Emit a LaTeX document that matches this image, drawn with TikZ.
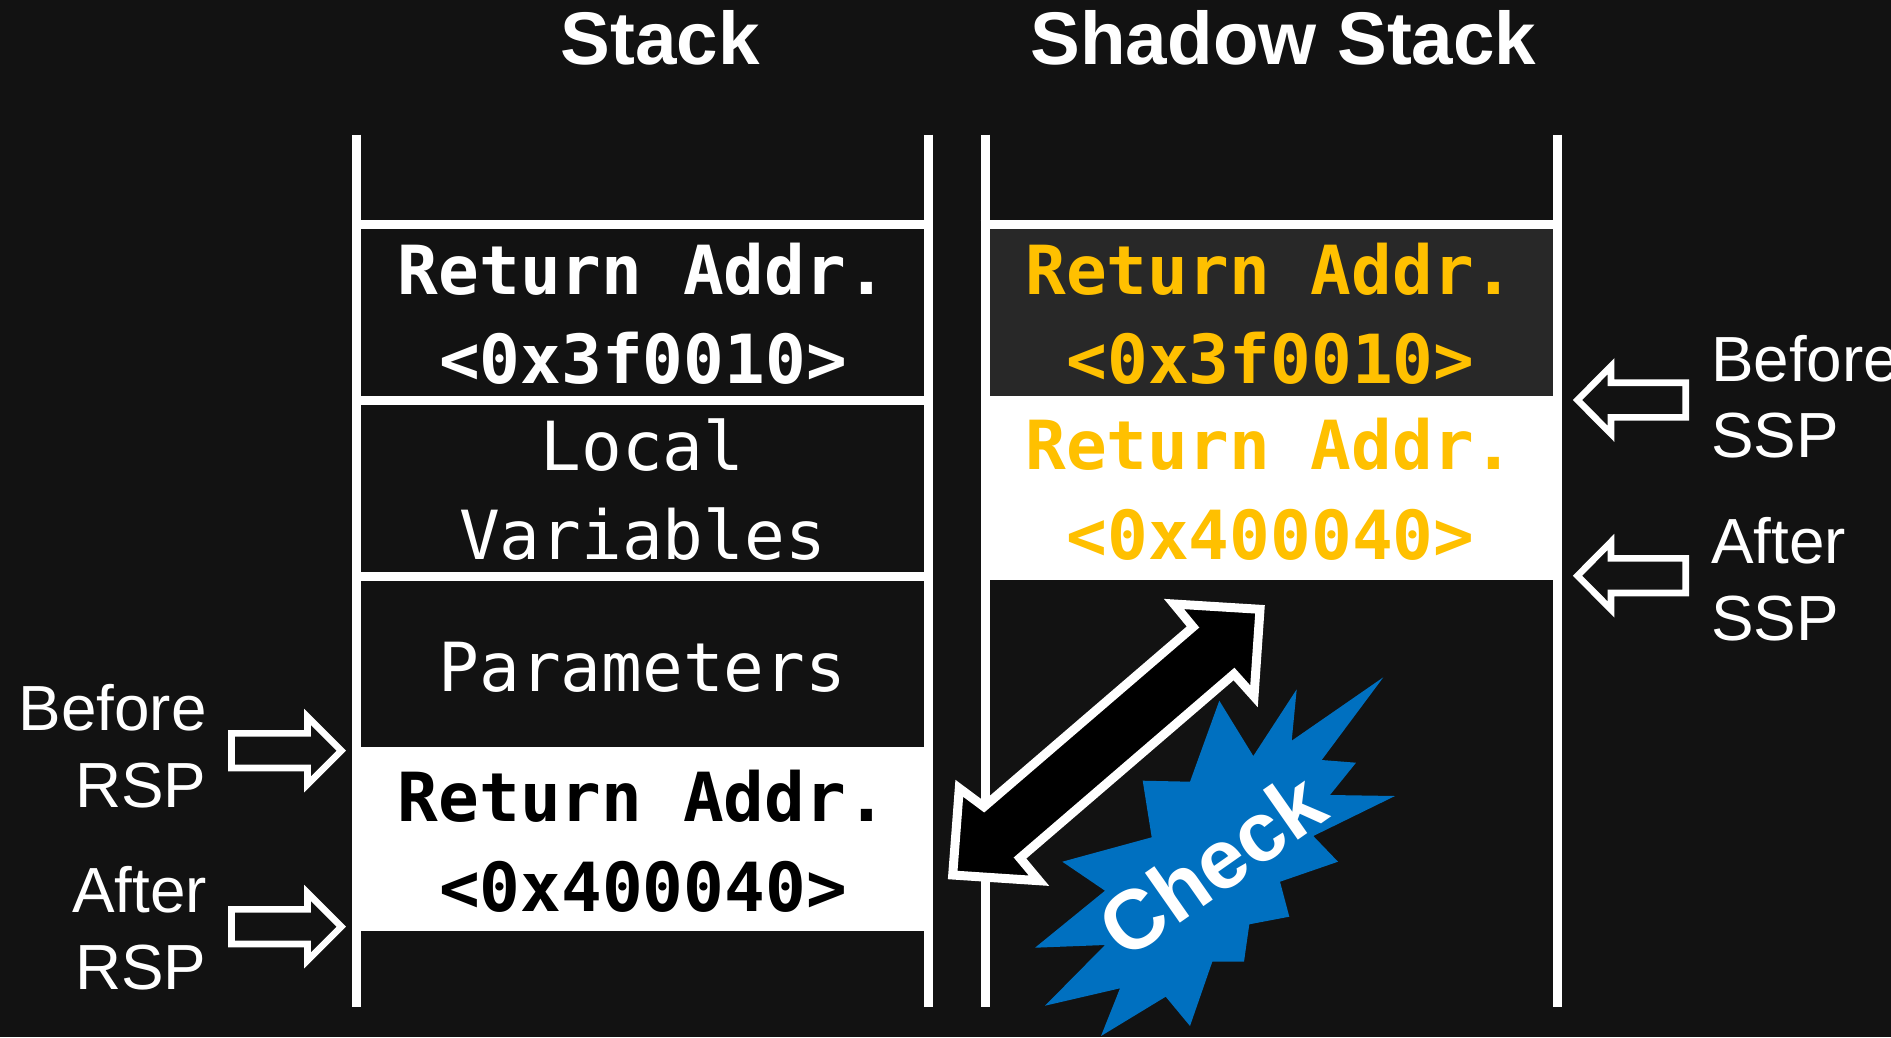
\documentclass[tikz,border=0pt]{standalone}
\usepackage{fontspec}
\setmainfont{Liberation Sans}
\setmonofont{DejaVu Sans Mono}
\definecolor{bgc}{HTML}{121212}
\definecolor{darkcell}{HTML}{282828}
\definecolor{amber}{HTML}{FFC000}
\definecolor{burst}{HTML}{0070C0}
\newcommand{\mono}{\fontsize{67.7}{67.7}\selectfont\ttfamily}
\newcommand{\sanslabel}{\fontsize{63.8}{63.8}\selectfont}
\tikzset{
  rail/.style={draw=white,line width=9pt},
  blockarrow/.style={draw=white,line width=6.6pt,fill=bgc,miter limit=10},
  txt/.style={inner sep=0pt,outer sep=0pt,anchor=base,text=white},
  monob/.style={txt,font=\mono\bfseries},
  monor/.style={txt,font=\mono},
  amb/.style={monob,text=amber},
  lab/.style={inner sep=0pt,outer sep=0pt,text=white,font=\sanslabel},
  title/.style={txt,font=\fontsize{74.6}{74.6}\selectfont\bfseries},
}
\begin{document}
\begin{tikzpicture}[x=1pt,y=-1pt]
\useasboundingbox (0,0) rectangle (1891,1037);
\fill[bgc] (0,0) rectangle (1891,1037);
% cells
\fill[white] (352,747) rectangle (933,931);
\fill[white] (980.5,396) rectangle (1561.5,580);
\fill[darkcell] (989,229) rectangle (1553,396);
% rails
\draw[rail] (356.5,134.5) -- (356.5,1007);
\draw[rail] (928.5,134.5) -- (928.5,1007);
\draw[rail] (985,134.5) -- (985,1007);
\draw[rail] (1557,134.5) -- (1557,1007);
\draw[rail] (352,224.5) -- (933,224.5);
\draw[rail] (352,400.5) -- (933,400.5);
\draw[rail] (352,576) -- (933,576);
\draw[rail] (980.5,224.5) -- (1561.5,224.5);
% titles
\node[title] (tstack) at (660,64.5) {Stack};
\node[title] (tshadow) at (1283.5,64.5) {Shadow Stack};
% stack text
\node[monob] (s1) at (642.5,294) {Return Addr.};
\node[monob] (s2) at (643,383) {<0x3f0010>};
\node[monor] (s3) at (642.5,470) {Local};
\node[monor] (s4) at (642.5,559) {Variables};
\node[monor] (s5) at (642.5,691) {Parameters};
\node[monob,text=black] (s6) at (642.5,821) {Return Addr.};
\node[monob,text=black] (s7) at (643,911) {<0x400040>};
% shadow text
\node[amb] (a1) at (1270,294) {Return Addr.};
\node[amb] (a2) at (1270.5,383) {<0x3f0010>};
\node[amb] (a3) at (1270,469) {Return Addr.};
\node[amb] (a4) at (1270.5,559) {<0x400040>};
% pointer labels
\node[lab,anchor=base east] (l1) at (206.5,730) {Before};
\node[lab,anchor=base east] (l2) at (206.5,807) {RSP};
\node[lab,anchor=base east] (l3) at (207,912) {After};
\node[lab,anchor=base east] (l4) at (206.5,989) {RSP};
\node[lab,anchor=base west] (r1) at (1711,381) {Before};
\node[lab,anchor=base west] (r2) at (1711,457) {SSP};
\node[lab,anchor=base west] (r3) at (1711,563) {After};
\node[lab,anchor=base west] (r4) at (1711,640) {SSP};
% block arrows
\foreach \yy in {750.7,926.7}{
  \draw[blockarrow] (231.5,\yy-17.3) -- (307.5,\yy-17.3) -- (307.5,\yy-33.8) -- (341.3,\yy) -- (307.5,\yy+33.8) -- (307.5,\yy+17.3) -- (231.5,\yy+17.3) -- cycle;
}
\foreach \yy in {400,575.7}{
  \draw[blockarrow] (1685.7,\yy-17.3) -- (1611,\yy-17.3) -- (1611,\yy-33.8) -- (1577.5,\yy) -- (1611,\yy+33.8) -- (1611,\yy+17.3) -- (1685.7,\yy+17.3) -- cycle;
}
% burst
\fill[burst] (1219.3,700.7) -- (1253.3,756) -- (1296.7,689.3) -- (1291.7,740.7) -- (1383.3,677.3) -- (1321.7,760) -- (1356,762.7) -- (1330,795) -- (1395,796) -- (1313.3,836) -- (1338,861.7) -- (1280,881.7) -- (1289.3,916.7) -- (1249.3,924.3) -- (1244,961.7) -- (1212.3,961.7) -- (1190,1026) -- (1165.7,996.7) -- (1101,1036) -- (1120,988.3) -- (1045,1005.7) -- (1105,945) -- (1035,947.7) -- (1105,890.7) -- (1062.3,861.7) -- (1151.7,837.3) -- (1142.7,780.7) -- (1190,781.7) -- cycle;
\node[txt,rotate=35,font=\fontsize{84}{84}\selectfont\bfseries] (chk) at (1229,889) {Check};
% double arrow
\draw[draw=white,fill=black,line width=9pt,miter limit=10] (1260,609.3) -- (1254,696.3) -- (1234,674) -- (1020,858) -- (1039,880.7) -- (952.7,875) -- (959.3,788.3) -- (984,806.7) -- (1193,627) -- (1174,604) -- cycle;
\end{tikzpicture}
\end{document}
